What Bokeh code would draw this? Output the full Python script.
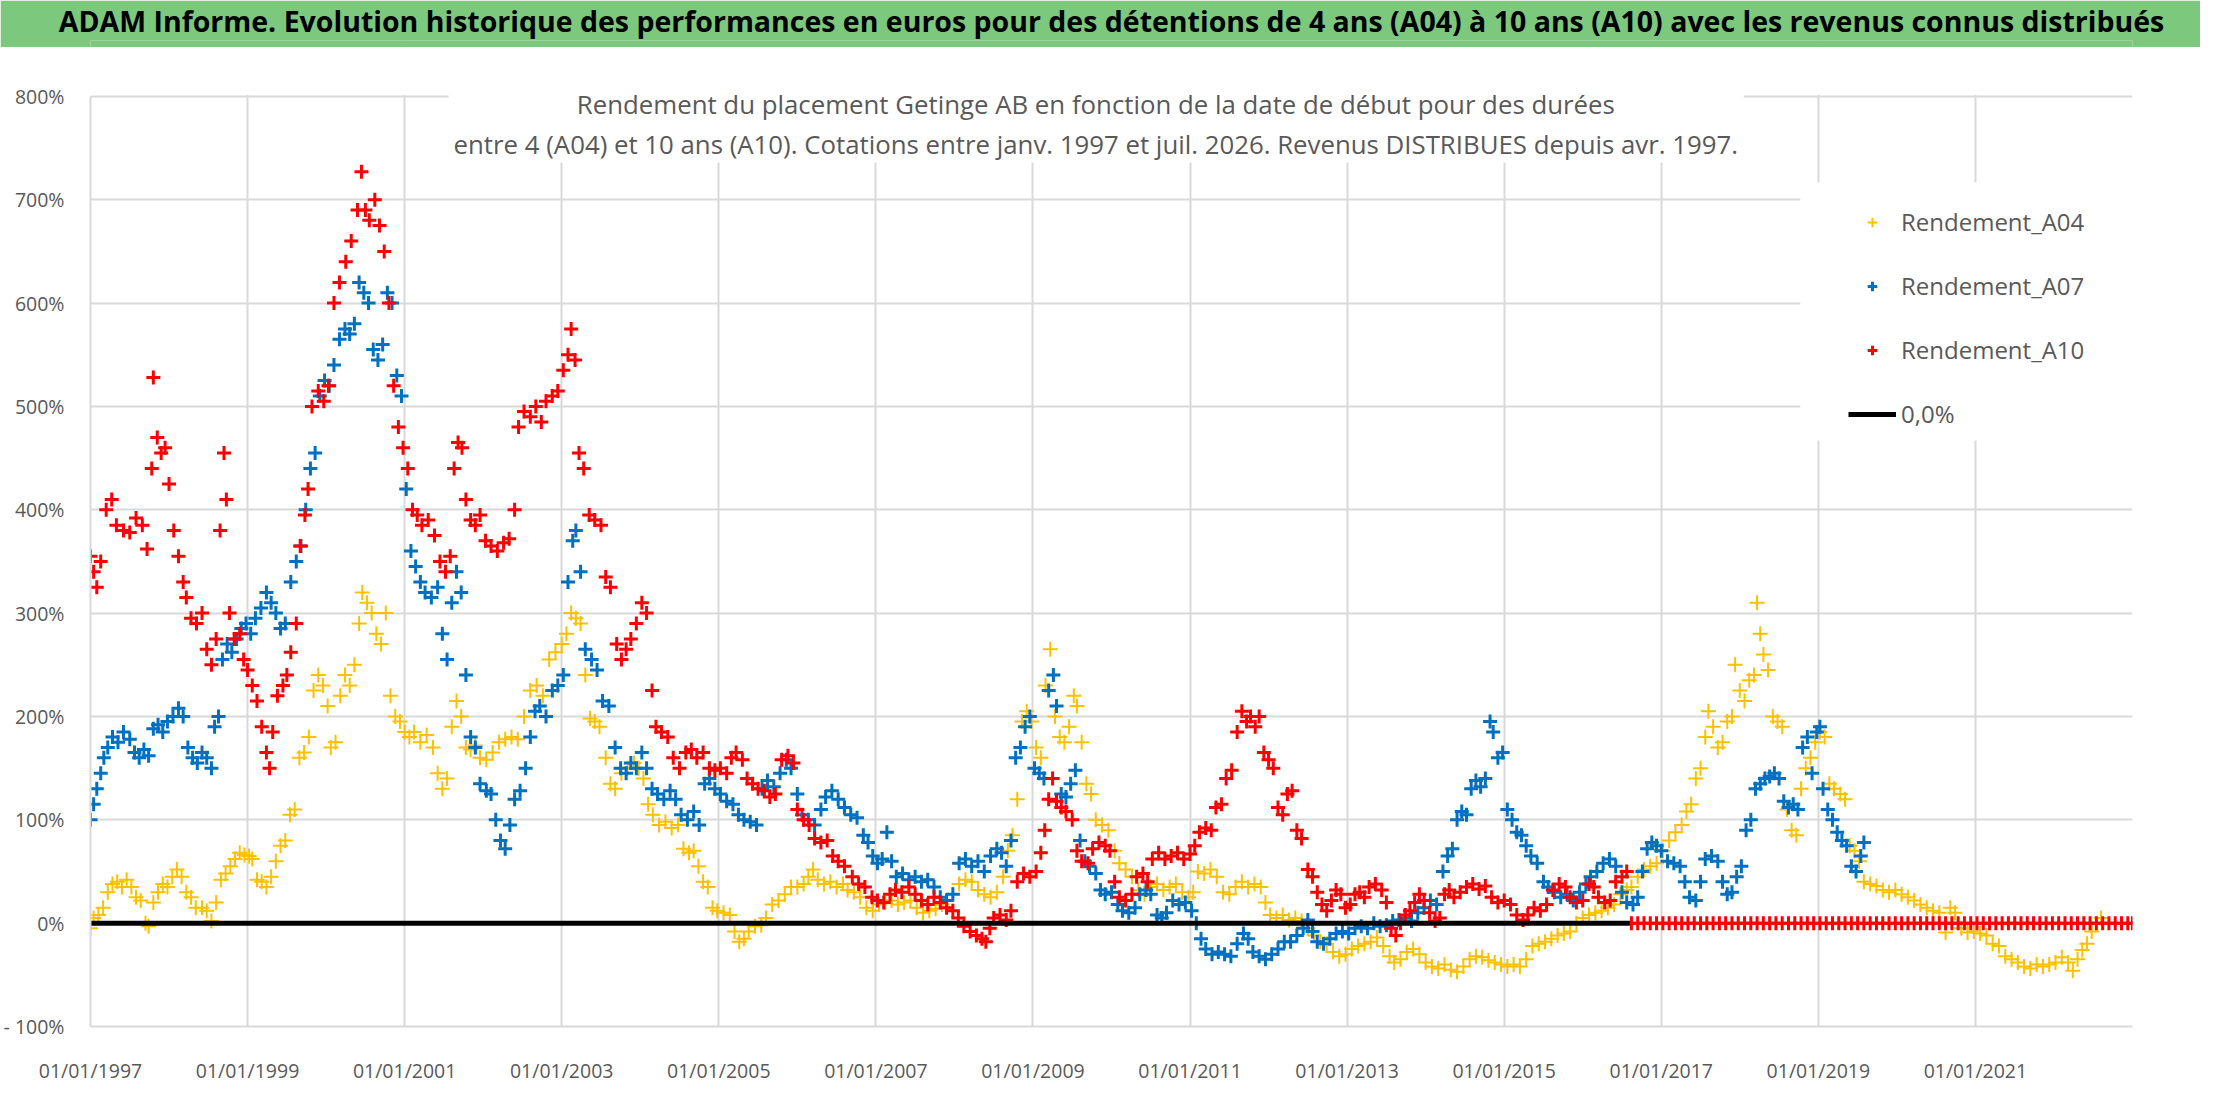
import numpy as np
from bokeh.plotting import figure
from bokeh.layouts import column
from bokeh.models import (ColumnDataSource, FixedTicker, Legend, LegendItem,
                          BoxAnnotation, Label, Range1d)
from bokeh.embed import file_html
from bokeh.resources import INLINE

TITLE = ("ADAM Informe. Evolution historique des performances en euros pour des "
         "détentions de 4 ans (A04) à 10 ans (A10) avec les revenus connus distribués")
SUBTITLE_1 = "Rendement du placement Getinge AB en fonction de la date de début pour des durées"
SUBTITLE_2 = ("entre 4 (A04) et 10 ans (A10). Cotations entre janv. 1997 et juil. 2026. "
              "Revenus DISTRIBUES depuis avr. 1997.")

x_ticks = [1997, 1999, 2001, 2003, 2005, 2007, 2009, 2011, 2013, 2015, 2017, 2019, 2021]
x_tick_labels = ["01/01/1997", "01/01/1999", "01/01/2001", "01/01/2003", "01/01/2005",
                 "01/01/2007", "01/01/2009", "01/01/2011", "01/01/2013", "01/01/2015",
                 "01/01/2017", "01/01/2019", "01/01/2021"]
y_ticks = [-100, 0, 100, 200, 300, 400, 500, 600, 700, 800]
y_tick_labels = ["- 100%", "0%", "100%", "200%", "300%", "400%", "500%", "600%", "700%", "800%"]

# (date de début en années décimales, rendement en %)
rendement_a04 = [
    (1997.00, -5), (1997.04, 5), (1997.10, 8), (1997.16, 15), (1997.22, 30), (1997.28, 38),
    (1997.34, 40), (1997.40, 35), (1997.46, 42), (1997.52, 35), (1997.58, 25), (1997.64, 22),
    (1997.70, 0), (1997.74, -3), (1997.80, 20), (1997.86, 30), (1997.92, 38), (1997.98, 35),
    (1998.04, 45), (1998.10, 52), (1998.16, 45), (1998.22, 30), (1998.28, 25), (1998.34, 15),
    (1998.42, 15), (1998.48, 12), (1998.54, 2), (1998.60, 20), (1998.66, 42), (1998.72, 48),
    (1998.78, 55), (1998.84, 62), (1998.90, 68), (1998.96, 66), (1999.02, 65), (1999.06, 62),
    (1999.12, 42), (1999.18, 40), (1999.24, 35), (1999.30, 45), (1999.36, 60), (1999.42, 75),
    (1999.48, 80), (1999.54, 105), (1999.60, 110), (1999.66, 160), (1999.72, 165), (1999.78, 180),
    (1999.84, 225), (1999.90, 240), (1999.96, 230), (2000.02, 210), (2000.06, 170), (2000.12, 175),
    (2000.18, 220), (2000.24, 240), (2000.30, 230), (2000.36, 250), (2000.42, 290), (2000.46, 320),
    (2000.52, 310), (2000.58, 300), (2000.64, 280), (2000.70, 270), (2000.76, 300), (2000.82, 220),
    (2000.88, 200), (2000.94, 195), (2001.00, 185), (2001.06, 180), (2001.12, 185), (2001.20, 175),
    (2001.28, 182), (2001.36, 170), (2001.42, 145), (2001.48, 130), (2001.54, 140), (2001.60, 190),
    (2001.66, 215), (2001.72, 200), (2001.78, 170), (2001.84, 168), (2001.90, 172), (2001.96, 160),
    (2002.04, 158), (2002.12, 165), (2002.20, 175), (2002.28, 178), (2002.36, 180), (2002.44, 178),
    (2002.52, 200), (2002.60, 225), (2002.68, 230), (2002.76, 220), (2002.84, 255), (2002.92, 262),
    (2003.00, 270), (2003.06, 280), (2003.12, 300), (2003.18, 295), (2003.24, 290), (2003.30, 240),
    (2003.36, 198), (2003.42, 195), (2003.48, 190), (2003.56, 160), (2003.62, 135), (2003.68, 130),
    (2003.76, 145), (2003.84, 150), (2003.92, 155), (2003.98, 150), (2004.04, 140), (2004.10, 115),
    (2004.16, 105), (2004.24, 95), (2004.32, 98), (2004.40, 92), (2004.48, 95), (2004.55, 72),
    (2004.62, 68), (2004.68, 70), (2004.74, 55), (2004.80, 40), (2004.86, 35), (2004.92, 15),
    (2004.98, 12), (2005.06, 10), (2005.14, 8), (2005.20, -8), (2005.26, -18), (2005.32, -15),
    (2005.38, -8), (2005.46, -3), (2005.54, -2), (2005.60, 5), (2005.68, 18), (2005.76, 22),
    (2005.84, 28), (2005.92, 35), (2006.00, 35), (2006.08, 38), (2006.14, 45), (2006.20, 52),
    (2006.26, 42), (2006.34, 38), (2006.42, 40), (2006.50, 35), (2006.58, 38), (2006.64, 32),
    (2006.72, 30), (2006.80, 25), (2006.88, 15), (2006.96, 12), (2007.04, 18), (2007.12, 20),
    (2007.20, 22), (2007.28, 18), (2007.36, 20), (2007.44, 22), (2007.52, 15), (2007.60, 10),
    (2007.68, 12), (2007.76, 14), (2007.84, 18), (2007.90, 22), (2007.98, 28), (2008.06, 38),
    (2008.14, 42), (2008.22, 40), (2008.30, 32), (2008.38, 28), (2008.46, 25), (2008.54, 30),
    (2008.62, 45), (2008.68, 70), (2008.74, 85), (2008.80, 120), (2008.86, 195), (2008.92, 205),
    (2008.98, 195), (2009.04, 170), (2009.10, 160), (2009.16, 230), (2009.22, 265), (2009.28, 200),
    (2009.34, 180), (2009.40, 175), (2009.46, 190), (2009.52, 220), (2009.56, 210), (2009.62, 175),
    (2009.68, 135), (2009.74, 125), (2009.80, 100), (2009.88, 95), (2009.96, 90), (2010.04, 70),
    (2010.10, 58), (2010.18, 52), (2010.26, 45), (2010.34, 32), (2010.42, 28), (2010.50, 35),
    (2010.58, 38), (2010.66, 32), (2010.74, 35), (2010.82, 38), (2010.90, 30), (2010.98, 25),
    (2011.04, 30), (2011.10, 50), (2011.18, 48), (2011.26, 52), (2011.34, 45), (2011.42, 30),
    (2011.50, 28), (2011.58, 35), (2011.66, 40), (2011.74, 35), (2011.82, 38), (2011.90, 35),
    (2011.96, 20), (2012.02, 8), (2012.10, 5), (2012.18, 8), (2012.26, 3), (2012.34, 5),
    (2012.42, 2), (2012.50, -5), (2012.58, -12), (2012.66, -18), (2012.74, -20), (2012.82, -28),
    (2012.90, -32), (2012.98, -30), (2013.06, -25), (2013.14, -22), (2013.22, -20), (2013.30, -18),
    (2013.38, -14), (2013.46, -22), (2013.54, -32), (2013.60, -38), (2013.68, -35), (2013.76, -28),
    (2013.84, -25), (2013.92, -30), (2014.00, -38), (2014.08, -42), (2014.16, -44), (2014.24, -40),
    (2014.32, -45), (2014.40, -47), (2014.48, -42), (2014.56, -35), (2014.64, -32), (2014.72, -33),
    (2014.80, -36), (2014.88, -38), (2014.96, -40), (2015.04, -42), (2015.12, -40), (2015.20, -42),
    (2015.28, -35), (2015.36, -22), (2015.44, -20), (2015.52, -18), (2015.60, -15), (2015.68, -12),
    (2015.76, -10), (2015.84, -8), (2015.92, 0), (2016.00, 5), (2016.08, 8), (2016.16, 10),
    (2016.24, 12), (2016.32, 15), (2016.40, 18), (2016.48, 28), (2016.56, 32), (2016.62, 35),
    (2016.70, 45), (2016.78, 52), (2016.86, 55), (2016.94, 58), (2017.02, 70), (2017.10, 80),
    (2017.18, 88), (2017.26, 95), (2017.32, 108), (2017.38, 115), (2017.44, 140), (2017.50, 150),
    (2017.56, 180), (2017.60, 205), (2017.66, 190), (2017.72, 170), (2017.78, 175), (2017.84, 195),
    (2017.90, 200), (2017.94, 250), (2018.00, 225), (2018.06, 215), (2018.12, 235), (2018.18, 240),
    (2018.22, 310), (2018.26, 280), (2018.30, 260), (2018.36, 245), (2018.42, 200), (2018.48, 195),
    (2018.54, 190), (2018.60, 110), (2018.66, 90), (2018.72, 85), (2018.78, 130), (2018.84, 150),
    (2018.90, 160), (2018.96, 175), (2019.02, 185), (2019.08, 180), (2019.14, 135), (2019.20, 130),
    (2019.28, 125), (2019.34, 120), (2019.40, 75), (2019.46, 70), (2019.52, 60), (2019.58, 40),
    (2019.66, 38), (2019.74, 36), (2019.82, 32), (2019.90, 30), (2019.98, 32), (2020.06, 28),
    (2020.14, 25), (2020.22, 22), (2020.30, 18), (2020.38, 15), (2020.46, 12), (2020.54, 10),
    (2020.62, -9), (2020.68, 15), (2020.74, 10), (2020.82, -5), (2020.90, -9), (2020.98, -8),
    (2021.06, -10), (2021.14, -12), (2021.22, -20), (2021.30, -22), (2021.38, -32), (2021.46, -35),
    (2021.54, -38), (2021.62, -42), (2021.70, -44), (2021.78, -40), (2021.86, -42), (2021.94, -40),
    (2022.02, -38), (2022.10, -33), (2022.18, -38), (2022.24, -46), (2022.30, -35), (2022.36, -26),
    (2022.42, -20), (2022.48, -8), (2022.54, 0), (2022.60, 5),
]

rendement_a07 = [
    (1997.00, 100), (1997.04, 115), (1997.08, 130), (1997.13, 145), (1997.17, 160), (1997.22, 170),
    (1997.28, 180), (1997.35, 175), (1997.42, 185), (1997.50, 178), (1997.56, 165), (1997.62, 160),
    (1997.68, 168), (1997.74, 162), (1997.80, 188), (1997.86, 192), (1997.92, 185), (1997.98, 195),
    (1998.05, 200), (1998.12, 208), (1998.18, 200), (1998.24, 170), (1998.30, 160), (1998.36, 155),
    (1998.42, 165), (1998.48, 160), (1998.54, 150), (1998.58, 190), (1998.63, 200), (1998.68, 255),
    (1998.74, 270), (1998.80, 262), (1998.86, 275), (1998.92, 285), (1998.98, 290), (1999.04, 280),
    (1999.10, 295), (1999.17, 305), (1999.24, 320), (1999.30, 310), (1999.36, 300), (1999.42, 285),
    (1999.48, 290), (1999.55, 330), (1999.62, 350), (1999.68, 365), (1999.74, 400), (1999.80, 440),
    (1999.86, 455), (1999.92, 510), (1999.98, 525), (2000.04, 520), (2000.10, 540), (2000.17, 565),
    (2000.24, 575), (2000.30, 570), (2000.36, 580), (2000.42, 620), (2000.48, 610), (2000.54, 600),
    (2000.60, 555), (2000.66, 545), (2000.72, 560), (2000.78, 610), (2000.84, 600), (2000.90, 530),
    (2000.96, 510), (2001.02, 420), (2001.08, 360), (2001.14, 345), (2001.20, 330), (2001.26, 320),
    (2001.34, 315), (2001.42, 325), (2001.48, 280), (2001.54, 255), (2001.60, 310), (2001.66, 340),
    (2001.72, 320), (2001.78, 240), (2001.84, 180), (2001.90, 170), (2001.96, 135), (2002.04, 128),
    (2002.10, 125), (2002.16, 100), (2002.22, 80), (2002.28, 72), (2002.34, 95), (2002.40, 120),
    (2002.47, 128), (2002.54, 150), (2002.60, 180), (2002.66, 205), (2002.72, 210), (2002.80, 200),
    (2002.88, 225), (2002.95, 230), (2003.02, 240), (2003.08, 330), (2003.14, 370), (2003.18, 380),
    (2003.24, 340), (2003.30, 265), (2003.38, 255), (2003.45, 245), (2003.52, 215), (2003.60, 210),
    (2003.68, 170), (2003.75, 150), (2003.82, 145), (2003.88, 155), (2003.95, 150), (2004.02, 165),
    (2004.08, 150), (2004.15, 130), (2004.22, 125), (2004.30, 120), (2004.38, 128), (2004.45, 120),
    (2004.52, 105), (2004.60, 100), (2004.68, 108), (2004.75, 95), (2004.82, 135), (2004.88, 140),
    (2004.95, 130), (2005.02, 125), (2005.10, 118), (2005.18, 115), (2005.25, 105), (2005.32, 100),
    (2005.40, 98), (2005.48, 95), (2005.55, 130), (2005.62, 138), (2005.70, 132), (2005.78, 145),
    (2005.86, 158), (2005.92, 150), (2006.00, 125), (2006.06, 105), (2006.14, 100), (2006.22, 95),
    (2006.30, 110), (2006.36, 122), (2006.44, 128), (2006.52, 120), (2006.60, 112), (2006.68, 105),
    (2006.76, 102), (2006.84, 85), (2006.90, 78), (2006.96, 65), (2007.02, 58), (2007.08, 62),
    (2007.14, 88), (2007.20, 60), (2007.26, 45), (2007.34, 48), (2007.42, 42), (2007.50, 45),
    (2007.58, 40), (2007.66, 42), (2007.74, 35), (2007.82, 25), (2007.90, 22), (2007.98, 28),
    (2008.06, 58), (2008.14, 62), (2008.22, 55), (2008.30, 60), (2008.38, 50), (2008.46, 65),
    (2008.54, 72), (2008.60, 68), (2008.66, 55), (2008.72, 80), (2008.78, 160), (2008.84, 170),
    (2008.90, 190), (2008.96, 200), (2009.02, 150), (2009.08, 145), (2009.14, 140), (2009.20, 225),
    (2009.26, 240), (2009.30, 210), (2009.36, 125), (2009.42, 122), (2009.48, 135), (2009.54, 148),
    (2009.60, 80), (2009.66, 60), (2009.72, 55), (2009.80, 48), (2009.86, 32), (2009.92, 28),
    (2010.00, 30), (2010.08, 18), (2010.14, 12), (2010.22, 10), (2010.30, 15), (2010.36, 28),
    (2010.44, 32), (2010.50, 28), (2010.58, 8), (2010.64, 5), (2010.70, 10), (2010.78, 22),
    (2010.86, 18), (2010.94, 20), (2011.02, 12), (2011.08, 0), (2011.14, -15), (2011.20, -25),
    (2011.28, -30), (2011.36, -28), (2011.44, -30), (2011.52, -32), (2011.60, -20), (2011.68, -10),
    (2011.74, -15), (2011.80, -28), (2011.88, -32), (2011.96, -35), (2012.04, -30), (2012.12, -25),
    (2012.20, -18), (2012.28, -18), (2012.36, -12), (2012.44, -5), (2012.50, 3), (2012.56, -8),
    (2012.62, -18), (2012.70, -20), (2012.78, -15), (2012.86, -10), (2012.94, -8), (2013.02, -10),
    (2013.10, -5), (2013.18, -3), (2013.26, -5), (2013.34, 0), (2013.42, -3), (2013.50, -2),
    (2013.58, 2), (2013.66, 3), (2013.74, 5), (2013.82, 2), (2013.90, 10), (2013.98, 15),
    (2014.06, 22), (2014.14, 18), (2014.22, 50), (2014.28, 65), (2014.34, 72), (2014.40, 100),
    (2014.46, 108), (2014.52, 105), (2014.58, 130), (2014.64, 138), (2014.70, 132), (2014.76, 140),
    (2014.82, 195), (2014.86, 185), (2014.92, 160), (2014.98, 165), (2015.04, 110), (2015.10, 100),
    (2015.16, 88), (2015.22, 85), (2015.28, 75), (2015.34, 65), (2015.42, 58), (2015.50, 40),
    (2015.56, 35), (2015.64, 30), (2015.72, 25), (2015.80, 28), (2015.88, 22), (2015.96, 30),
    (2016.04, 38), (2016.10, 45), (2016.18, 50), (2016.26, 58), (2016.34, 62), (2016.42, 55),
    (2016.50, 30), (2016.56, 20), (2016.64, 18), (2016.70, 25), (2016.76, 50), (2016.82, 72),
    (2016.88, 78), (2016.94, 75), (2017.00, 70), (2017.08, 60), (2017.16, 58), (2017.24, 55),
    (2017.30, 40), (2017.36, 25), (2017.44, 22), (2017.50, 40), (2017.56, 62), (2017.64, 65),
    (2017.72, 60), (2017.78, 40), (2017.84, 28), (2017.90, 30), (2017.96, 45), (2018.02, 55),
    (2018.08, 90), (2018.14, 100), (2018.20, 130), (2018.26, 135), (2018.32, 140), (2018.38, 142),
    (2018.44, 145), (2018.50, 140), (2018.56, 118), (2018.62, 112), (2018.68, 115), (2018.74, 110),
    (2018.80, 170), (2018.86, 180), (2018.92, 145), (2018.98, 185), (2019.02, 190), (2019.06, 130),
    (2019.12, 110), (2019.18, 100), (2019.24, 88), (2019.30, 80), (2019.36, 75), (2019.42, 55),
    (2019.48, 50), (2019.54, 65), (2019.58, 78),
]

rendement_a10 = [
    (1997.00, 355), (1997.04, 340), (1997.08, 325), (1997.13, 350), (1997.20, 400), (1997.27, 410),
    (1997.33, 385), (1997.42, 380), (1997.50, 378), (1997.58, 392), (1997.66, 385), (1997.72, 362),
    (1997.78, 440), (1997.80, 528), (1997.85, 470), (1997.90, 455), (1997.95, 460), (1998.00, 425),
    (1998.06, 380), (1998.12, 355), (1998.18, 330), (1998.22, 315), (1998.28, 295), (1998.35, 290),
    (1998.42, 300), (1998.48, 265), (1998.54, 250), (1998.60, 275), (1998.65, 380), (1998.70, 455),
    (1998.73, 410), (1998.77, 300), (1998.83, 275), (1998.90, 280), (1998.95, 255), (1999.00, 245),
    (1999.06, 230), (1999.12, 215), (1999.18, 190), (1999.24, 165), (1999.28, 150), (1999.32, 185),
    (1999.38, 220), (1999.45, 230), (1999.50, 240), (1999.55, 262), (1999.62, 290), (1999.67, 365),
    (1999.73, 395), (1999.77, 420), (1999.82, 500), (1999.90, 515), (1999.97, 505), (2000.03, 520),
    (2000.10, 600), (2000.17, 620), (2000.25, 640), (2000.32, 660), (2000.40, 690), (2000.45, 727),
    (2000.50, 690), (2000.55, 680), (2000.62, 700), (2000.68, 675), (2000.74, 650), (2000.80, 600),
    (2000.86, 520), (2000.92, 480), (2000.98, 460), (2001.04, 440), (2001.10, 400), (2001.16, 395),
    (2001.22, 385), (2001.30, 390), (2001.38, 375), (2001.45, 350), (2001.52, 340), (2001.58, 355),
    (2001.63, 440), (2001.68, 465), (2001.73, 460), (2001.78, 410), (2001.84, 390), (2001.90, 385),
    (2001.96, 395), (2002.03, 370), (2002.10, 365), (2002.18, 360), (2002.26, 368), (2002.33, 372),
    (2002.40, 400), (2002.45, 480), (2002.52, 495), (2002.60, 490), (2002.67, 500), (2002.74, 485),
    (2002.80, 505), (2002.88, 510), (2002.95, 515), (2003.02, 535), (2003.08, 550), (2003.12, 575),
    (2003.17, 545), (2003.22, 455), (2003.28, 440), (2003.35, 395), (2003.42, 390), (2003.50, 385),
    (2003.56, 335), (2003.62, 325), (2003.70, 270), (2003.76, 255), (2003.82, 265), (2003.88, 275),
    (2003.95, 290), (2004.02, 310), (2004.08, 300), (2004.15, 225), (2004.20, 190), (2004.27, 185),
    (2004.35, 180), (2004.42, 160), (2004.50, 150), (2004.58, 165), (2004.65, 168), (2004.72, 160),
    (2004.80, 165), (2004.88, 150), (2004.95, 148), (2005.02, 150), (2005.10, 145), (2005.16, 160),
    (2005.22, 165), (2005.30, 158), (2005.36, 140), (2005.43, 135), (2005.50, 130), (2005.58, 128),
    (2005.65, 122), (2005.72, 125), (2005.80, 158), (2005.88, 162), (2005.95, 155), (2006.00, 110),
    (2006.08, 100), (2006.15, 95), (2006.22, 82), (2006.30, 78), (2006.38, 80), (2006.45, 65),
    (2006.52, 60), (2006.60, 55), (2006.70, 45), (2006.78, 38), (2006.86, 35), (2006.95, 25),
    (2007.02, 22), (2007.10, 20), (2007.18, 28), (2007.25, 32), (2007.33, 30), (2007.42, 35),
    (2007.50, 28), (2007.58, 22), (2007.66, 18), (2007.74, 25), (2007.82, 20), (2007.90, 15),
    (2007.98, 12), (2008.05, 5), (2008.12, -3), (2008.20, -8), (2008.28, -12), (2008.35, -15),
    (2008.40, -18), (2008.45, -5), (2008.50, 5), (2008.58, 8), (2008.66, 3), (2008.72, 12),
    (2008.80, 40), (2008.88, 48), (2008.96, 45), (2009.04, 50), (2009.10, 68), (2009.15, 90),
    (2009.20, 120), (2009.25, 140), (2009.30, 118), (2009.36, 112), (2009.42, 108), (2009.50, 100),
    (2009.56, 70), (2009.62, 60), (2009.70, 58), (2009.76, 72), (2009.84, 78), (2009.92, 75),
    (2009.98, 70), (2010.04, 40), (2010.10, 25), (2010.18, 22), (2010.26, 28), (2010.32, 45),
    (2010.40, 48), (2010.46, 40), (2010.52, 62), (2010.60, 68), (2010.68, 62), (2010.76, 65),
    (2010.84, 68), (2010.92, 62), (2011.00, 67), (2011.06, 75), (2011.12, 88), (2011.20, 92),
    (2011.27, 90), (2011.33, 112), (2011.40, 115), (2011.46, 140), (2011.53, 148), (2011.60, 185),
    (2011.66, 205), (2011.72, 195), (2011.77, 200), (2011.83, 190), (2011.88, 200), (2011.94, 165),
    (2012.00, 158), (2012.06, 150), (2012.12, 112), (2012.18, 105), (2012.24, 125), (2012.30, 128),
    (2012.36, 90), (2012.42, 82), (2012.50, 52), (2012.56, 45), (2012.62, 30), (2012.68, 18),
    (2012.74, 12), (2012.80, 22), (2012.86, 32), (2012.92, 28), (2012.98, 15), (2013.04, 18),
    (2013.10, 28), (2013.16, 30), (2013.22, 25), (2013.28, 35), (2013.36, 38), (2013.44, 32),
    (2013.50, 20), (2013.56, -5), (2013.62, -12), (2013.68, 0), (2013.74, 8), (2013.80, 12),
    (2013.86, 20), (2013.92, 28), (2013.98, 22), (2014.05, 10), (2014.12, 2), (2014.18, 5),
    (2014.24, 28), (2014.30, 32), (2014.36, 25), (2014.44, 30), (2014.52, 35), (2014.60, 38),
    (2014.68, 33), (2014.76, 36), (2014.84, 25), (2014.92, 20), (2015.00, 22), (2015.08, 18),
    (2015.16, 8), (2015.24, 3), (2015.30, 8), (2015.38, 15), (2015.46, 12), (2015.54, 18),
    (2015.62, 32), (2015.70, 38), (2015.78, 35), (2015.84, 25), (2015.92, 20), (2016.00, 22),
    (2016.08, 38), (2016.14, 35), (2016.20, 25), (2016.28, 20), (2016.35, 22), (2016.42, 40),
    (2016.50, 45), (2016.56, 50),
    # au-delà de juil. 2016 la durée de 10 ans n'est pas encore atteinte : 0 %
    (2016.62, 0), (2016.70, 0), (2016.78, 0), (2016.86, 0), (2016.94, 0), (2017.02, 0),
    (2017.10, 0), (2017.18, 0), (2017.26, 0), (2017.34, 0), (2017.42, 0), (2017.50, 0),
    (2017.58, 0), (2017.66, 0), (2017.74, 0), (2017.82, 0), (2017.90, 0), (2017.98, 0),
    (2018.06, 0), (2018.14, 0), (2018.22, 0), (2018.30, 0), (2018.38, 0), (2018.46, 0),
    (2018.54, 0), (2018.62, 0), (2018.70, 0), (2018.78, 0), (2018.86, 0), (2018.94, 0),
    (2019.02, 0), (2019.10, 0), (2019.18, 0), (2019.26, 0), (2019.34, 0), (2019.42, 0),
    (2019.50, 0), (2019.58, 0), (2019.66, 0), (2019.74, 0), (2019.82, 0), (2019.90, 0),
    (2019.98, 0), (2020.06, 0), (2020.14, 0), (2020.22, 0), (2020.30, 0), (2020.38, 0),
    (2020.46, 0), (2020.54, 0), (2020.62, 0), (2020.70, 0), (2020.78, 0), (2020.86, 0),
    (2020.94, 0), (2021.02, 0), (2021.10, 0), (2021.18, 0), (2021.26, 0), (2021.34, 0),
    (2021.42, 0), (2021.50, 0), (2021.58, 0), (2021.66, 0), (2021.74, 0), (2021.82, 0),
    (2021.90, 0), (2021.98, 0), (2022.06, 0), (2022.14, 0), (2022.22, 0), (2022.30, 0),
    (2022.38, 0), (2022.46, 0), (2022.54, 0), (2022.62, 0), (2022.70, 0), (2022.78, 0),
    (2022.86, 0), (2022.94, 0), (2023.00, 0),
]

ligne_zero_x = [1997.0, 2016.6]
ligne_zero_y = [0.0, 0.0]

GREY_TXT = "#595959"
GRID = "#D9D9D9"
FONT = "Open Sans"


def to_source(points):
    xs, ys = zip(*points)
    return ColumnDataSource(data={"x": list(xs), "y": list(ys)})


# bandeau vert du haut (le titre est un Title : il n'est pas coupé par le cadre,
# qui est aligné sur celui du graphique principal)
banner = figure(width=2200, height=47, x_range=Range1d(0, 1), y_range=Range1d(0, 1),
                output_backend="svg", toolbar_location=None, title=TITLE,
                title_location="above",
                x_axis_location=None, y_axis_location=None, min_border=0,
                background_fill_color="#7CC87C", border_fill_color="#7CC87C",
                outline_line_color=None)
banner.grid.visible = False
banner.title.align = "center"
banner.title.vertical_align = "middle"
banner.title.standoff = 0
banner.title.text_font = FONT
banner.title.text_font_style = "bold"
banner.title.text_font_size = "28.5px"
banner.title.text_color = "black"

# graphique principal : le cadre monte jusqu'en haut pour que le sous-titre y tienne,
# 900 points de % occupent 933 px
y_top = 800 + 49 * 900 / 933
p = figure(width=2200, height=1039, x_range=Range1d(1997, 2023), y_range=Range1d(-100, y_top),
           output_backend="svg", toolbar_location=None,
           min_border_left=90, min_border_right=68, min_border_top=0, min_border_bottom=57,
           outline_line_color=None)

p.xaxis.ticker = FixedTicker(ticks=x_ticks)
p.xaxis.major_label_overrides = dict(zip(x_ticks, x_tick_labels))
p.yaxis.ticker = FixedTicker(ticks=y_ticks)
p.yaxis.major_label_overrides = dict(zip(y_ticks, y_tick_labels))
p.yaxis.bounds = (-100, 800)
for ax in (p.xaxis, p.yaxis):
    ax.major_label_text_font = FONT
    ax.major_label_text_font_size = "19.5px"
    ax.major_label_text_color = GREY_TXT
    ax.axis_line_color = GRID
    ax.axis_line_width = 2
    ax.major_tick_line_color = None
    ax.minor_tick_line_color = None
p.xaxis.major_label_standoff = 24
p.yaxis.major_label_standoff = 20

p.xgrid.grid_line_color = GRID
p.ygrid.grid_line_color = GRID
p.xgrid.grid_line_width = 2
p.ygrid.grid_line_width = 2

# zones blanches : au-dessus de 800 %, derrière le sous-titre et derrière la légende
p.add_layout(BoxAnnotation(left=1990, right=2030, bottom=801.2, top=1000,
                           fill_color="white", fill_alpha=1, line_color=None, level="underlay"))
p.add_layout(BoxAnnotation(left=2001.56, right=2018.05, bottom=736, top=1000,
                           fill_color="white", fill_alpha=1, line_color=None, level="underlay"))
p.add_layout(BoxAnnotation(left=2018.77, right=2024, bottom=467, top=717,
                           fill_color="white", fill_alpha=1, line_color=None, level="underlay"))

p.add_layout(Label(x=2009.8, y=793, text=SUBTITLE_1, text_align="center", text_baseline="middle",
                   text_font=FONT, text_font_size="25.8px", text_color=GREY_TXT))
p.add_layout(Label(x=2009.8, y=754, text=SUBTITLE_2, text_align="center", text_baseline="middle",
                   text_font=FONT, text_font_size="25.8px", text_color=GREY_TXT))

r04 = p.scatter("x", "y", source=to_source(rendement_a04), marker="cross", size=15,
                line_color="#FFC000", line_width=2)
r07 = p.scatter("x", "y", source=to_source(rendement_a07), marker="cross", size=14,
                line_color="#0070C0", line_width=3)
r10 = p.scatter("x", "y", source=to_source(rendement_a10), marker="cross", size=14,
                line_color="#FF0000", line_width=3)
rz = p.line(ligne_zero_x, ligne_zero_y, line_color="black", line_width=5)

legend = Legend(items=[LegendItem(label="Rendement_A04", renderers=[r04]),
                       LegendItem(label="Rendement_A07", renderers=[r07]),
                       LegendItem(label="Rendement_A10", renderers=[r10]),
                       LegendItem(label="0,0%", renderers=[rz])],
                location=(1758, 596), glyph_width=48, glyph_height=24, label_height=24,
                spacing=31, padding=0, margin=0, label_standoff=5,
                border_line_color=None, background_fill_alpha=0,
                label_text_font=FONT, label_text_font_size="24px", label_text_color=GREY_TXT)
p.add_layout(legend)

layout = column(banner, p, spacing=0)
open("out.html", "w").write(file_html(layout, INLINE))
